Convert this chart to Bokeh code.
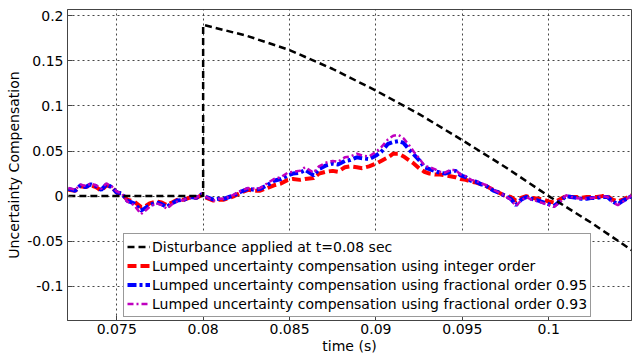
from bokeh.plotting import figure
from bokeh.models import (Range1d, FixedTicker, Legend, LegendItem)
from bokeh.embed import file_html
from bokeh.resources import INLINE

# ---------------- data ----------------
t_dist = [0.0722, 0.0800, 0.0800, 0.0825, 0.0850, 0.0875, 0.0900, 0.0925,
          0.0950, 0.0975, 0.1000, 0.1025, 0.1048]
disturbance = [0.0, 0.0, 0.190, 0.178, 0.162, 0.141, 0.117, 0.091,
               0.062, 0.032, 0.000, -0.030, -0.060]

t = [0.0722, 0.0726, 0.0729, 0.0732, 0.0735, 0.0738, 0.0741, 0.0744, 0.0747, 0.0750,
     0.0753, 0.0756, 0.0760, 0.0764, 0.0766, 0.0769, 0.0773, 0.0776, 0.0779, 0.0782,
     0.0785, 0.0789, 0.0793, 0.0796, 0.0799, 0.0802, 0.0806, 0.0809, 0.0812, 0.0815,
     0.0818, 0.0822, 0.0826, 0.0830, 0.0833, 0.0837, 0.0841, 0.0845, 0.0849, 0.0852,
     0.0856, 0.0859, 0.0864, 0.0867, 0.0871, 0.0875, 0.0878, 0.0882, 0.0885, 0.0889,
     0.0892, 0.0896, 0.0900, 0.0903, 0.0907, 0.0910, 0.0913, 0.0916, 0.0919, 0.0922,
     0.0925, 0.0928, 0.0931, 0.0934, 0.0937, 0.0940, 0.0943, 0.0946, 0.0949, 0.0952,
     0.0955, 0.0958, 0.0961, 0.0964, 0.0968, 0.0971, 0.0974, 0.0978, 0.0981, 0.0984,
     0.0987, 0.0990, 0.0994, 0.0997, 0.1000, 0.1003, 0.1007, 0.1010, 0.1013, 0.1016,
     0.1019, 0.1022, 0.1025, 0.1028, 0.1031, 0.1034, 0.1037, 0.1040, 0.1043, 0.1046,
     0.1048]

integer_order = [0.007, 0.006, 0.011, 0.010, 0.012, 0.010, 0.006, 0.012, 0.010, 0.004,
                 0.002, -0.004, -0.006, -0.012, -0.012, -0.008, -0.006, -0.007, -0.010, -0.007,
                 -0.004, -0.004, -0.001, -0.002, 0.001, -0.002, -0.005, -0.004, -0.004, -0.002,
                 0.000, 0.004, 0.007, 0.006, 0.006, 0.009, 0.012, 0.014, 0.018, 0.019,
                 0.018, 0.019, 0.020, 0.025, 0.027, 0.028, 0.027, 0.032, 0.033, 0.032,
                 0.031, 0.033, 0.036, 0.039, 0.043, 0.047, 0.047, 0.044, 0.040, 0.036,
                 0.031, 0.027, 0.025, 0.024, 0.024, 0.023, 0.022, 0.021, 0.019, 0.018,
                 0.016, 0.015, 0.013, 0.011, 0.007, 0.004, 0.001, -0.001, -0.005, -0.002,
                 0.000, -0.002, -0.003, -0.004, -0.006, -0.007, -0.003, 0.000, -0.001, -0.001,
                 -0.002, -0.001, -0.001, -0.001, 0.000, 0.000, -0.004, -0.006, -0.004, -0.001,
                 0.001]

frac_095 = [0.008, 0.006, 0.012, 0.010, 0.013, 0.011, 0.007, 0.013, 0.010, 0.004,
            0.003, -0.005, -0.008, -0.016, -0.014, -0.010, -0.007, -0.009, -0.012, -0.008,
            -0.005, -0.004, -0.001, -0.002, 0.002, -0.001, -0.004, -0.003, -0.003, -0.001,
            0.001, 0.005, 0.008, 0.007, 0.008, 0.012, 0.017, 0.019, 0.023, 0.025,
            0.026, 0.029, 0.023, 0.030, 0.034, 0.036, 0.035, 0.039, 0.040, 0.043,
            0.042, 0.041, 0.045, 0.049, 0.058, 0.060, 0.061, 0.059, 0.052, 0.046,
            0.040, 0.032, 0.030, 0.028, 0.026, 0.025, 0.027, 0.028, 0.023, 0.021,
            0.017, 0.016, 0.013, 0.011, 0.006, 0.004, 0.001, -0.003, -0.010, -0.004,
            -0.001, -0.003, -0.005, -0.007, -0.009, -0.011, -0.005, 0.000, -0.001, -0.002,
            -0.003, -0.003, -0.002, -0.002, -0.001, -0.001, -0.006, -0.009, -0.005, -0.002,
            0.000]

frac_093 = [0.009, 0.007, 0.013, 0.011, 0.014, 0.012, 0.008, 0.014, 0.011, 0.005,
            0.003, -0.006, -0.010, -0.020, -0.017, -0.012, -0.008, -0.010, -0.014, -0.009,
            -0.006, -0.004, -0.001, -0.002, 0.003, -0.001, -0.005, -0.003, -0.003, -0.001,
            0.002, 0.006, 0.009, 0.008, 0.009, 0.014, 0.019, 0.021, 0.026, 0.027,
            0.028, 0.032, 0.026, 0.033, 0.037, 0.039, 0.038, 0.043, 0.044, 0.047,
            0.045, 0.044, 0.049, 0.054, 0.063, 0.067, 0.068, 0.064, 0.057, 0.049,
            0.042, 0.034, 0.032, 0.030, 0.027, 0.026, 0.029, 0.029, 0.024, 0.022,
            0.018, 0.017, 0.014, 0.012, 0.007, 0.004, 0.001, -0.004, -0.011, -0.005,
            -0.001, -0.004, -0.006, -0.008, -0.010, -0.012, -0.006, 0.001, -0.001, -0.002,
            -0.003, -0.003, -0.002, -0.001, 0.000, -0.001, -0.007, -0.010, -0.006, -0.002,
            0.001]

x_ticks = [0.075, 0.08, 0.085, 0.09, 0.095, 0.1]
x_tick_labels = ["0.075", "0.08", "0.085", "0.09", "0.095", "0.1"]
y_ticks = [-0.1, -0.05, 0.0, 0.05, 0.1, 0.15, 0.2]
y_tick_labels = ["-0.1", "-0.05", "0", "0.05", "0.1", "0.15", "0.2"]

legend_labels = ["Disturbance applied at t=0.08 sec",
                 "Lumped uncertainty compensation using integer order",
                 "Lumped uncertainty compensation using fractional order 0.95",
                 "Lumped uncertainty compensation using fractional order 0.93"]

FONT = "DejaVu Sans"

p = figure(width=632, height=358, output_backend="svg", toolbar_location=None,
           x_range=Range1d(0.07215, 0.10479), y_range=Range1d(-0.138, 0.207),
           min_border_left=67, min_border_right=1, min_border_top=9, min_border_bottom=38,
           x_axis_label="time (s)", y_axis_label="Uncertainty Compensation")
p.background_fill_color = "white"
p.border_fill_color = "white"
p.outline_line_color = "#444444"
p.outline_line_width = 1

for ax, ticks, labels in ((p.xaxis[0], x_ticks, x_tick_labels), (p.yaxis[0], y_ticks, y_tick_labels)):
    ax.ticker = FixedTicker(ticks=ticks)
    ax.major_label_overrides = {tk: lb for tk, lb in zip(ticks, labels)}
    ax.major_tick_in = 5
    ax.major_tick_out = 0
    ax.minor_tick_in = 0
    ax.minor_tick_out = 0
    ax.axis_line_color = "#444444"
    ax.major_tick_line_color = "#444444"
    ax.major_label_text_font = FONT
    ax.major_label_text_font_size = "14px"
    ax.major_label_text_color = "black"
    ax.axis_label_text_font = FONT
    ax.axis_label_text_font_size = "14px"
    ax.axis_label_text_font_style = "normal"
    ax.axis_label_text_color = "black"
p.xaxis[0].major_label_standoff = 3
p.xaxis[0].axis_label_standoff = 1
p.yaxis[0].major_label_standoff = 4
p.yaxis[0].axis_label_standoff = 2

for g in (p.xgrid[0], p.ygrid[0]):
    g.grid_line_color = "#333333"
    g.grid_line_dash = "2 3"
    g.grid_line_width = 1
    g.grid_line_alpha = 0.9
p.xgrid[0].ticker = FixedTicker(ticks=x_ticks)
p.ygrid[0].ticker = FixedTicker(ticks=y_ticks)

r_red = p.line(t, integer_order, line_color="#ff0000", line_width=4, line_dash="9 4")
r_blue = p.line(t, frac_095, line_color="#0000ff", line_width=4, line_dash="9 3 3 3")
r_mag = p.line(t, frac_093, line_color="#bf00bf", line_width=2.5, line_dash="6 3 2 3")
r_blk = p.line(t_dist, disturbance, line_color="black", line_width=2.5, line_dash="7 4")

legend = Legend(items=[LegendItem(label=legend_labels[0], renderers=[r_blk]),
                       LegendItem(label=legend_labels[1], renderers=[r_red]),
                       LegendItem(label=legend_labels[2], renderers=[r_blue]),
                       LegendItem(label=legend_labels[3], renderers=[r_mag])],
                location=(56, 3))
legend.label_text_font = FONT
legend.label_text_font_size = "14px"
legend.label_text_color = "black"
legend.label_height = 19
legend.glyph_height = 19
legend.glyph_width = 23
legend.label_standoff = 2
legend.padding = 3
legend.spacing = 0
legend.margin = 0
legend.border_line_color = "#333333"
legend.border_line_width = 1
legend.background_fill_color = "white"
legend.background_fill_alpha = 1
p.add_layout(legend, "center")

open("out.html", "w").write(file_html(p, INLINE))
